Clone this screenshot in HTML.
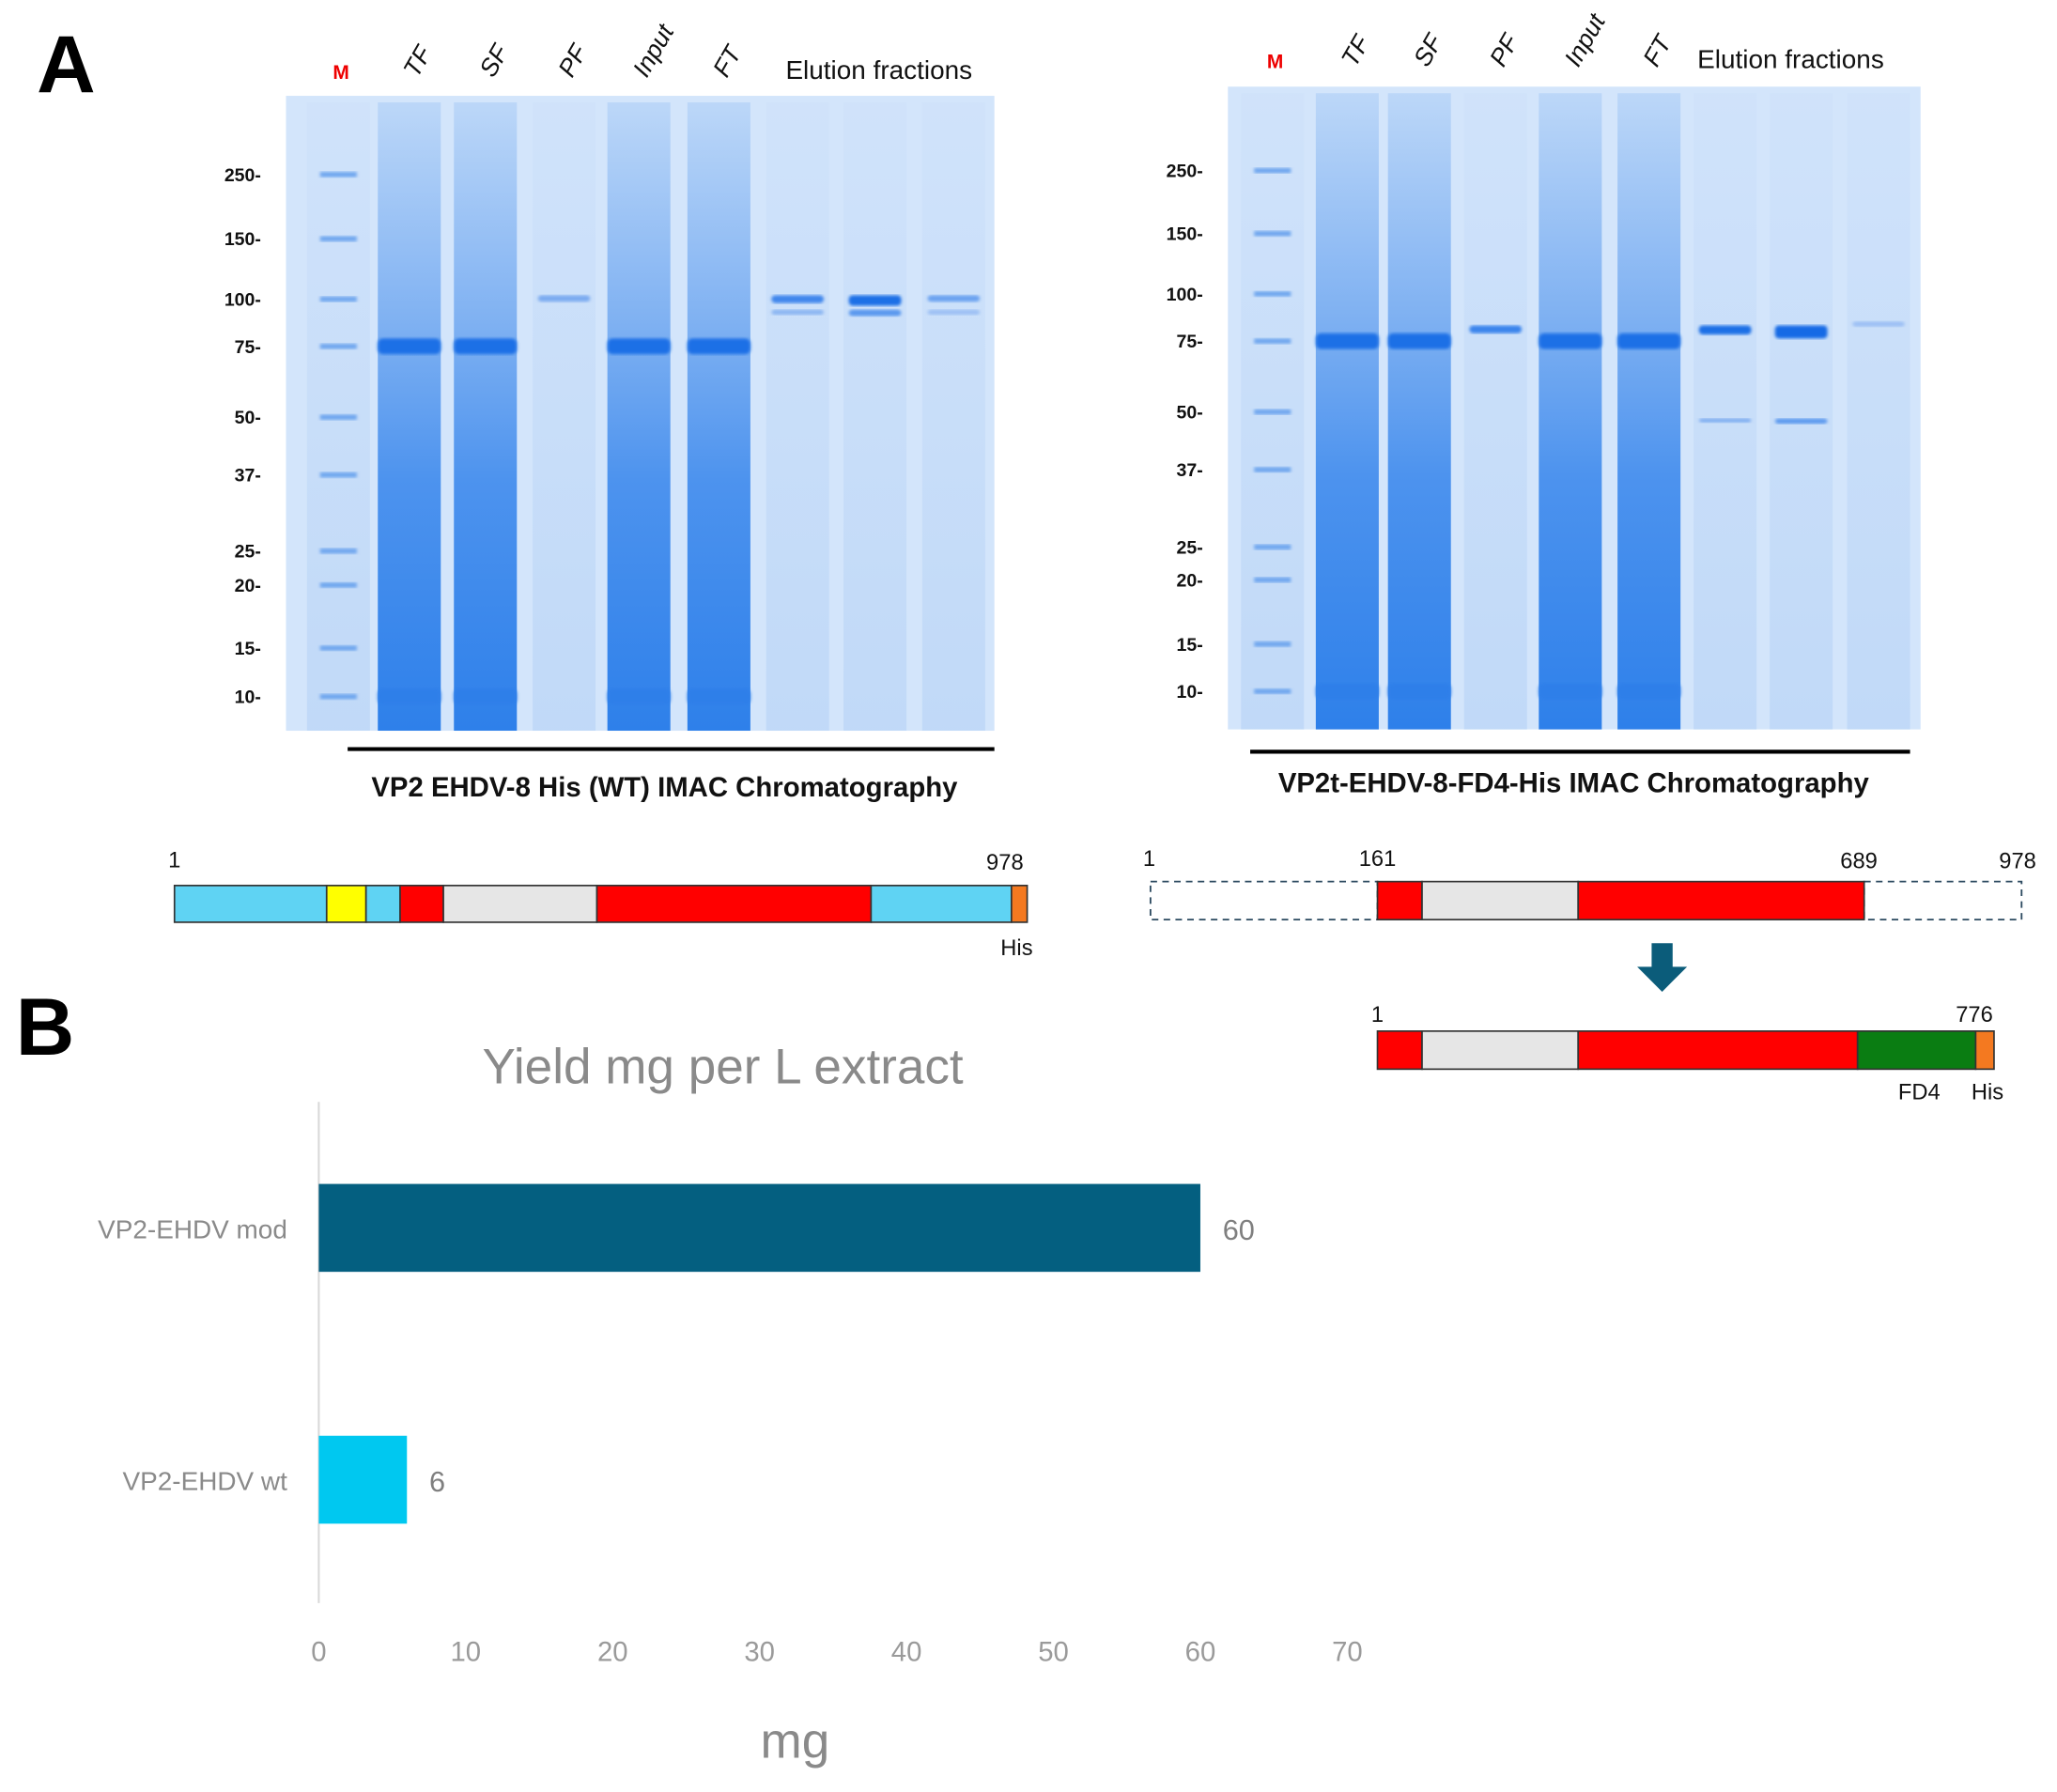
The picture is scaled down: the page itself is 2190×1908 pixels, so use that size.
<!DOCTYPE html>
<html><head><meta charset="utf-8"><style>
html,body{margin:0;padding:0;background:#fff;}
svg{display:block;}
</style></head><body>
<svg id="fig" width="2190" height="1908" viewBox="0 0 1568 1366" xmlns="http://www.w3.org/2000/svg">
<defs>
<linearGradient id="lane" x1="0" y1="0" x2="0" y2="1">
<stop offset="0" stop-color="#bcd7f8"/><stop offset="0.35" stop-color="#7fb1f2"/><stop offset="0.6" stop-color="#4d93ee"/><stop offset="1" stop-color="#2e80ea"/></linearGradient>
<linearGradient id="laneLight" x1="0" y1="0" x2="0" y2="1">
<stop offset="0" stop-color="#cfe2fa"/><stop offset="1" stop-color="#bcd6f7"/></linearGradient>
<filter id="blur"><feGaussianBlur stdDeviation="1.2"/></filter>
</defs>
<g id="panelA"></g>
<g id="panelB"></g>
</svg>
<script>
var NS='http://www.w3.org/2000/svg';
function mk(parent,tag,attrs,txt){var e=document.createElementNS(NS,tag);for(var k in attrs)e.setAttribute(k,attrs[k]);if(txt!==undefined)e.textContent=txt;parent.appendChild(e);return e;}
var A=document.getElementById('panelA');
var B=document.getElementById('panelB');

// ---- chart data ----
var categories=['VP2-EHDV mod','VP2-EHDV wt'];
var values=[60,6];
var barColors=['#045f80','#00c8f0'];
var xTicks=[0,10,20,30,40,50,60,70];

// ---- letters ----
var t=mk(A,'text',{x:28,y:70,'font-size':62,'font-weight':'bold','font-family':'Liberation Sans, sans-serif',fill:'#000'},'A');


t=mk(B,'text',{x:12,y:804,'font-size':62,'font-weight':'bold','font-family':'Liberation Sans, sans-serif',fill:'#000'},'B');



// ---- gels ----
function gel(g,x0,y0,x1,y1,lanes,mw,mwY,labelY,labX,name,labels,elX,elY,caption,capY,lineX0,lineX1,lineY,strong,elBands){
  var grp=mk(g,'g',{});
  
  
  mk(grp,'rect',{x:x0,y:y0,width:x1-x0,height:y1-y0,fill:'#d3e5fb'});
  lanes.forEach(function(cx,i){
    var heavy=strong.indexOf(i)>=0;
    mk(grp,'rect',{x:cx-24,y:y0+5,width:48,height:y1-y0-5,fill:heavy?'url(#lane)':'url(#laneLight)',opacity:heavy?1:0.8});
  });
  mwY.forEach(function(yy){mk(grp,'rect',{x:lanes[0]-14,y:yy-2,width:28,height:4,fill:'#6ea6ee',filter:'url(#blur)'});});
  strong.forEach(function(i){mk(grp,'rect',{x:lanes[i]-24,y:mwY[3]-6,width:48,height:12,fill:'#1a6fe6',rx:4,filter:'url(#blur)'});
     mk(grp,'rect',{x:lanes[i]-24,y:mwY[9]-6,width:48,height:12,fill:'#2d7fe9',rx:4,filter:'url(#blur)'});});
  elBands.forEach(function(b){mk(grp,'rect',{x:lanes[b[0]]-20,y:b[1]-3,width:40,height:b[2],fill:b[3],rx:3,filter:'url(#blur)'});});
  mw.forEach(function(m,i){
    var l=mk(grp,'text',{x:labX,y:mwY[i]+5,'font-size':14,'font-weight':'bold','text-anchor':'end','font-family':'Liberation Sans, sans-serif',fill:'#111'},m+'-');
    
    
  });
  labels.forEach(function(s,i){
    var cx=lanes[i]+ (i==0?2:6);
    var l;
    if(i==0){l=mk(grp,'text',{x:cx,y:labelY,'font-size':15,'font-weight':'bold','text-anchor':'middle','font-family':'Liberation Sans, sans-serif',fill:'#e00'},s);}
    else{l=mk(grp,'text',{x:cx,y:labelY,'font-size':19,'font-style':'italic','font-family':'Liberation Sans, sans-serif',fill:'#111',transform:'rotate(-60 '+cx+' '+labelY+')'},s);}
    
    
  });
  var e=mk(grp,'text',{x:elX,y:elY,'font-size':20,'font-family':'Liberation Sans, sans-serif',fill:'#111','text-anchor':'middle'},'Elution fractions');
  
  
  mk(grp,'line',{x1:lineX0,x2:lineX1,y1:lineY,y2:lineY,stroke:'#000','stroke-width':3});
  var c=mk(grp,'text',{x:(lineX0+lineX1)/2-5,y:capY,'font-size':21,'font-weight':'bold','text-anchor':'middle','font-family':'Liberation Sans, sans-serif',fill:'#111'},caption);
  
  
}
var mw=[250,150,100,75,50,37,25,20,15,10];
gel(A,218,73,758,557,[258,312,370,430,487,548,608,667,727],mw,[133,182,228,264,318,362,420,446,494,531],60,199,'gel-wt',
 ['M','TF','SF','PF','Input','FT'],670,60,'VP2 EHDV-8 His (WT) IMAC Chromatography',607,265,758,571,[1,2,4,5],
 [[3,228,5,'#7aaaf0'],[6,228,6,'#3f86ec'],[6,239,4,'#8ab5f2'],[7,228,8,'#1a6fe6'],[7,239,5,'#5a98ee'],[8,228,5,'#6aa2f0'],[8,239,4,'#9cc0f4']]);
gel(A,936,66,1464,556,[970,1027,1082,1140,1197,1257,1315,1373,1432],mw,[130,178,224,260,314,358,417,442,491,527],52,917,'gel-mod',
 ['M','TF','SF','PF','Input','FT'],1365,52,'VP2t-EHDV-8-FD4-His IMAC Chromatography',604,953,1456,573,[1,2,4,5],
 [[3,251,6,'#3a84ec'],[6,251,7,'#1e70e6'],[7,251,10,'#156be5'],[8,248,4,'#9cc0f4'],[6,322,3,'#7aaaf0'],[7,322,4,'#5a98ee']]);

// ---- domain diagrams ----
function seg(g,x0,x1,y,h,fill,dashed){
  mk(g,'rect',{x:x0,y:y,width:x1-x0,height:h,fill:fill,stroke:dashed?'#2c4a60':'#333','stroke-width':dashed?1.3:1.2,'stroke-dasharray':dashed?'5,4':'none'});
}
function txt(g,x,y,s,name,anchor){var e=mk(g,'text',{x:x,y:y,'font-size':17,'text-anchor':anchor||'middle','font-family':'Liberation Sans, sans-serif',fill:'#111'},s);
 return e;}
var d1=mk(A,'g',{});
[[133,249,'#5fd3f3'],[249,279,'#ffff00'],[279,305,'#5fd3f3'],[305,338,'#ff0000'],[338,455,'#e6e6e6'],[455,664,'#ff0000'],[664,771,'#5fd3f3'],[771,783,'#f47920']].forEach(function(s){seg(d1,s[0],s[1],675,28,s[2]);});
txt(d1,133,661,'1','pos-1');txt(d1,766,663,'978','pos-978');txt(d1,775,728,'His','his-tag-label');
var d2=mk(A,'g',{});
seg(d2,877,1050,672,29,'#fff',true);seg(d2,1421,1541,672,29,'#fff',true);
[[1050,1084,'#ff0000'],[1084,1203,'#e6e6e6'],[1203,1421,'#ff0000']].forEach(function(s){seg(d2,s[0],s[1],672,29,s[2]);});
txt(d2,876,660,'1','pos-1');txt(d2,1050,660,'161','pos-161');txt(d2,1417,662,'689','pos-689');txt(d2,1538,662,'978','pos-978');
var ar=mk(A,'path',{d:'M1259,719 h16 v18 h11 l-19,19 l-19,-19 h11 z',fill:'#0b5c7a'});

var d3=mk(A,'g',{});
[[1050,1084,'#ff0000'],[1084,1203,'#e6e6e6'],[1203,1416,'#ff0000'],[1416,1506,'#0a7d12'],[1506,1520,'#f47920']].forEach(function(s){seg(d3,s[0],s[1],786,29,s[2]);});
txt(d3,1050,779,'1','pos-1');txt(d3,1505,779,'776','pos-776');txt(d3,1463,838,'FD4','fd4-label');txt(d3,1515,838,'His','his-tag-label');

// ---- bar chart ----
var X0=243,X60=915;
function xs(v){return X0+v*(X60-X0)/60;}
var catY=[936,1128],barH=67;
var ch=mk(B,'g',{});
var ti=mk(ch,'text',{x:551,y:826,'font-size':38,'text-anchor':'middle','font-family':'Liberation Sans, sans-serif',fill:'#8a8a8a'},'Yield mg per L extract');

var ax=mk(ch,'line',{x1:243,x2:243,y1:840,y2:1222,stroke:'#d9d9d9','stroke-width':1.5});

values.forEach(function(v,i){
  var r=mk(ch,'rect',{x:xs(0),y:catY[i]-barH/2,width:xs(v)-xs(0),height:barH,fill:barColors[i]});
  
  
  var l=mk(ch,'text',{x:xs(v)+17,y:catY[i]+9,'font-size':22,'font-family':'Liberation Sans, sans-serif',fill:'#7f7f7f'},String(v));
  
  
  var c=mk(ch,'text',{x:219,y:catY[i]+8,'font-size':20,'text-anchor':'end','font-family':'Liberation Sans, sans-serif',fill:'#8a8a8a'},categories[i]);
  
  
});
xTicks.forEach(function(v){
  var k=mk(ch,'text',{x:xs(v),y:1266,'font-size':21,'text-anchor':'middle','font-family':'Liberation Sans, sans-serif',fill:'#9a9a9a'},String(v));
  
  
});
var xt=mk(ch,'text',{x:606,y:1340,'font-size':38,'text-anchor':'middle','font-family':'Liberation Sans, sans-serif',fill:'#8a8a8a'},'mg');

</script>
</body></html>
